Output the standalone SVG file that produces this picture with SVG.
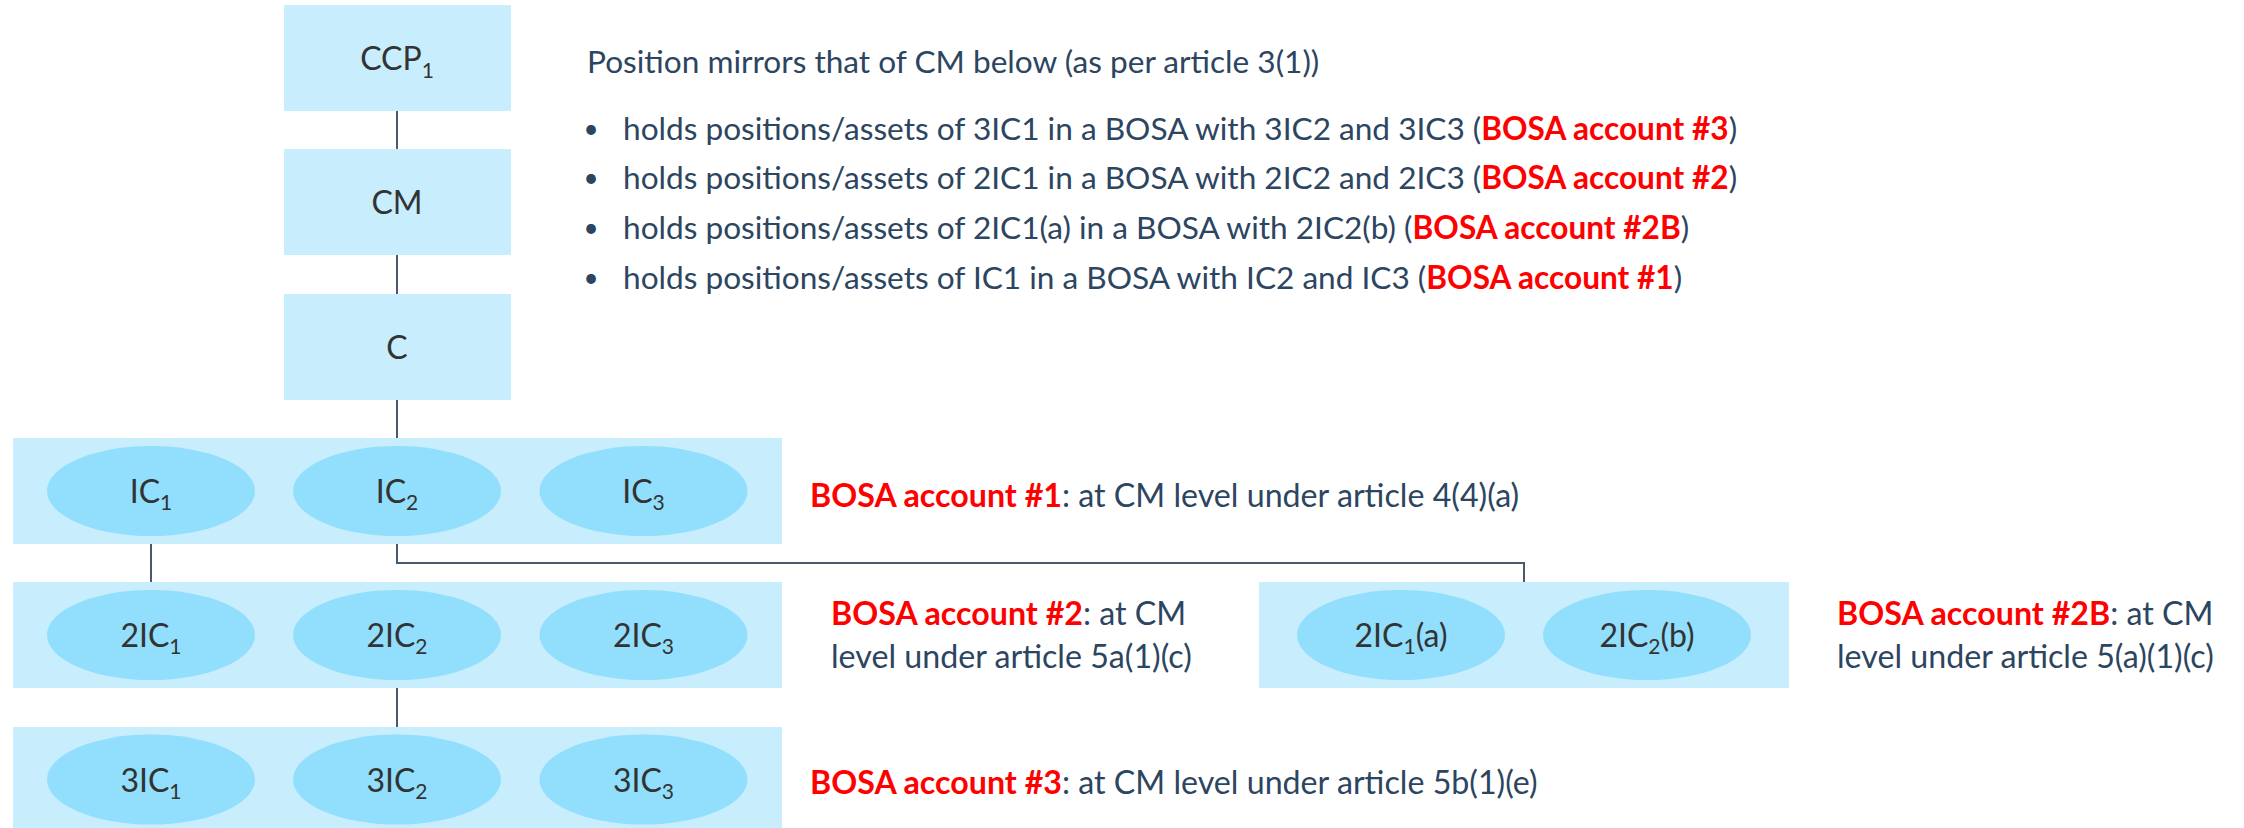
<svg xmlns="http://www.w3.org/2000/svg" width="2244" height="828" viewBox="0 0 2244 828">
<style>
.box{fill:#c8edfd}
.ell{fill:#91dffc}
.nt{font-family:Lato,"Open Sans",sans-serif;font-size:32px;fill:#333333;text-anchor:middle}
.sub{font-size:21px}
.tx{font-family:Lato,"Open Sans",sans-serif;font-size:31.6px;fill:#2c4560}
.bul{font-family:Lato,"Open Sans",sans-serif;font-size:26px;fill:#2c4560;text-anchor:middle}
.lb{font-family:Lato,"Open Sans",sans-serif;font-size:32.2px;fill:#2c4560}
.red{fill:#ff0000;font-weight:bold}
.conn{stroke:#465b70;stroke-width:2;fill:none}
</style>
<rect width="2244" height="828" fill="#ffffff"/>
<g id="connectors">
<line class="conn" x1="397" y1="111" x2="397" y2="149"/>
<line class="conn" x1="397" y1="255" x2="397" y2="294"/>
<line class="conn" x1="397" y1="400" x2="397" y2="438"/>
<line class="conn" x1="151" y1="544" x2="151" y2="582"/>
<polyline class="conn" points="397,544 397,563 1524,563 1524,582"/>
<line class="conn" x1="397" y1="688" x2="397" y2="727"/>
</g>
<g id="ccp1"><rect class="box" x="284" y="5" width="227" height="106"/><text class="nt" x="397" y="70">CCP<tspan class="sub" dy="8">1</tspan></text></g>
<g id="cm"><rect class="box" x="284" y="149" width="227" height="106"/><text class="nt" x="397" y="214">CM</text></g>
<g id="c"><rect class="box" x="284" y="294" width="227" height="106"/><text class="nt" x="397" y="359">C</text></g>

<g id="row1">
<rect class="box" x="13" y="438" width="769" height="106"/>
<g id="ic1"><ellipse class="ell" cx="151" cy="491" rx="104" ry="45"/><text class="nt" x="151" y="503">IC<tspan class="sub" dy="7">1</tspan></text></g>
<g id="ic2"><ellipse class="ell" cx="397" cy="491" rx="104" ry="45"/><text class="nt" x="397" y="503">IC<tspan class="sub" dy="7">2</tspan></text></g>
<g id="ic3"><ellipse class="ell" cx="643.5" cy="491" rx="104" ry="45"/><text class="nt" x="643.5" y="503">IC<tspan class="sub" dy="7">3</tspan></text></g>
</g>
<g id="row2">
<rect class="box" x="13" y="582" width="769" height="106"/>
<g id="ic21"><ellipse class="ell" cx="151" cy="635" rx="104" ry="45"/><text class="nt" x="151" y="647">2IC<tspan class="sub" dy="7">1</tspan></text></g>
<g id="ic22"><ellipse class="ell" cx="397" cy="635" rx="104" ry="45"/><text class="nt" x="397" y="647">2IC<tspan class="sub" dy="7">2</tspan></text></g>
<g id="ic23"><ellipse class="ell" cx="643.5" cy="635" rx="104" ry="45"/><text class="nt" x="643.5" y="647">2IC<tspan class="sub" dy="7">3</tspan></text></g>
</g>
<g id="row3">
<rect class="box" x="13" y="727" width="769" height="106"/>
<g id="ic31"><ellipse class="ell" cx="151" cy="779.5" rx="104" ry="45"/><text class="nt" x="151" y="791.5">3IC<tspan class="sub" dy="7">1</tspan></text></g>
<g id="ic32"><ellipse class="ell" cx="397" cy="779.5" rx="104" ry="45"/><text class="nt" x="397" y="791.5">3IC<tspan class="sub" dy="7">2</tspan></text></g>
<g id="ic33"><ellipse class="ell" cx="643.5" cy="779.5" rx="104" ry="45"/><text class="nt" x="643.5" y="791.5">3IC<tspan class="sub" dy="7">3</tspan></text></g>
</g>
<g id="row2b">
<rect class="box" x="1259" y="582" width="530" height="106"/>
<g id="ic21a"><ellipse class="ell" cx="1401" cy="635" rx="104" ry="45"/><text class="nt" x="1401" y="647">2IC<tspan class="sub" dy="7">1</tspan><tspan dy="-7">(a)</tspan></text></g>
<g id="ic22b"><ellipse class="ell" cx="1647" cy="635" rx="104" ry="45"/><text class="nt" x="1647" y="647">2IC<tspan class="sub" dy="7">2</tspan><tspan dy="-7">(b)</tspan></text></g>
</g>

<g id="notes">
<text class="tx" x="587" y="73">Position mirrors that of CM below (as per article 3(1))</text>
<text class="bul" x="591" y="138">•</text>
<text class="tx" x="623" y="140">holds positions/assets of 3IC1 in a BOSA with 3IC2 and 3IC3 (<tspan class="red">BOSA account #3</tspan>)</text>
<text class="bul" x="591" y="187">•</text>
<text class="tx" x="623" y="189">holds positions/assets of 2IC1 in a BOSA with 2IC2 and 2IC3 (<tspan class="red">BOSA account #2</tspan>)</text>
<text class="bul" x="591" y="237">•</text>
<text class="tx" x="623" y="239">holds positions/assets of 2IC1(a) in a BOSA with 2IC2(b) (<tspan class="red">BOSA account #2B</tspan>)</text>
<text class="bul" x="591" y="287">•</text>
<text class="tx" x="623" y="289">holds positions/assets of IC1 in a BOSA with IC2 and IC3 (<tspan class="red">BOSA account #1</tspan>)</text>
</g>
<g id="labels">
<text class="lb" x="810" y="507"><tspan class="red">BOSA account #1</tspan>: at CM level under article 4(4)(a)</text>
<text class="lb" x="831" y="625"><tspan class="red">BOSA account #2</tspan>: at CM</text>
<text class="lb" x="831" y="668">level under article 5a(1)(c)</text>
<text class="lb" x="810" y="794"><tspan class="red">BOSA account #3</tspan>: at CM level under article 5b(1)(e)</text>
<text class="lb" x="1837" y="625"><tspan class="red">BOSA account #2B</tspan>: at CM</text>
<text class="lb" x="1837" y="668">level under article 5(a)(1)(c)</text>
</g>
</svg>
